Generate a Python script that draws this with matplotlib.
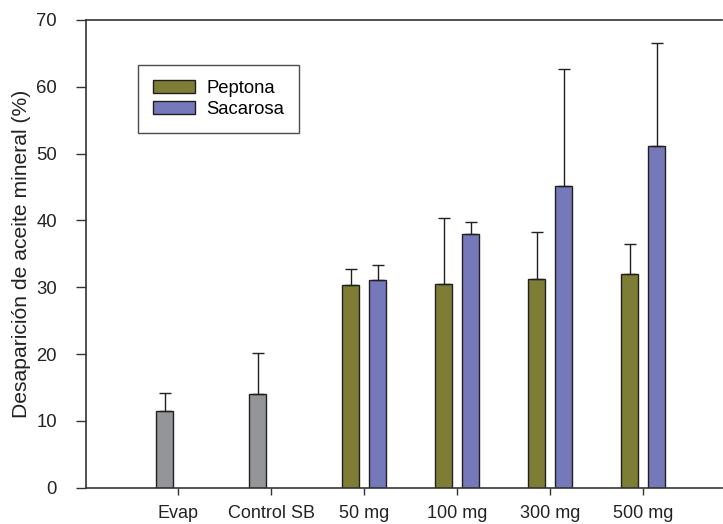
import numpy as np
import matplotlib.pyplot as plt

plt.rcParams['font.family'] = ['Liberation Sans', 'DejaVu Sans']

categories = ["Evap", "Control SB", "50 mg", "100 mg", "300 mg", "500 mg"]
control = [11.5, 14.1]
control_err = [2.7, 6.0]
peptona = [30.3, 30.5, 31.2, 32.0]
peptona_err = [2.5, 9.9, 7.1, 4.5]
sacarosa = [31.1, 38.0, 45.1, 51.2]
sacarosa_err = [2.2, 1.8, 17.5, 15.3]

gray = '#939598'
olive = '#7d7d35'
purple = '#7578b9'
edge = '#231f20'

fig = plt.figure(figsize=(7.23, 5.24), dpi=100)
ax = fig.add_axes([0.119, 0.069, 0.88, 0.893])

w = 0.18
off = 0.145
x = np.arange(len(categories))
ekw = dict(ecolor=edge, elinewidth=1.0, capsize=4.5, capthick=1.0)

ax.bar(x[:2] - off, control, w, color=gray, edgecolor=edge, linewidth=1.0,
       yerr=[np.zeros(2), control_err], error_kw=ekw)
ax.bar(x[2:] - off, peptona, w, color=olive, edgecolor=edge, linewidth=1.0,
       yerr=[np.zeros(4), peptona_err], error_kw=ekw, label='Peptona')
ax.bar(x[2:] + off, sacarosa, w, color=purple, edgecolor=edge, linewidth=1.0,
       yerr=[np.zeros(4), sacarosa_err], error_kw=ekw, label='Sacarosa')

ax.set_xlim(-0.99, 5.85)
ax.set_ylim(0, 70)
ax.set_yticks(range(0, 71, 10))
ax.set_xticks(x)
ax.set_xticklabels(categories, fontsize=13, color='#222222')
ax.tick_params(axis='y', labelsize=13.3, labelcolor='#222222', direction='out',
               length=7, color='#333333', width=1, pad=14)
ax.tick_params(axis='x', direction='out', length=5, color='#333333', width=1, pad=7)
ax.set_ylabel("Desaparición de aceite mineral (%)", fontsize=15.2, color='#222222',
              labelpad=4)
for s in ['left', 'bottom', 'top']:
    ax.spines[s].set_color('#333333')
    ax.spines[s].set_linewidth(1.2)
ax.spines['right'].set_visible(False)

leg = ax.legend(loc='upper left', bbox_to_anchor=(0.082, 0.904), fontsize=13.3,
                frameon=True, fancybox=False, edgecolor=edge, handlelength=2.27,
                handleheight=0.7, handletextpad=0.6, borderpad=0.8,
                labelspacing=0.25, borderaxespad=0)
leg.get_frame().set_linewidth(1.0)

fig.savefig("out.png", dpi=100)
